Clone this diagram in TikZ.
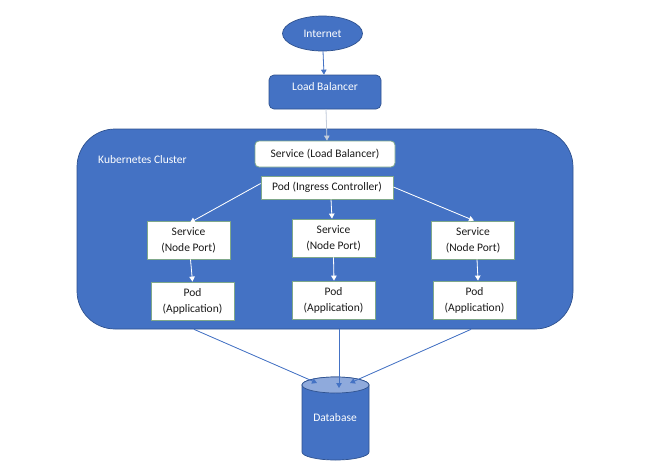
\documentclass[tikz,border=0pt]{standalone}
\usepackage{fontspec}
\setmainfont{Carlito}
\usetikzlibrary{arrows.meta,shapes.geometric,calc}
\definecolor{kblue}{HTML}{4472C4}
\definecolor{kedge}{HTML}{2F528F}
\definecolor{ktop}{HTML}{8FAADC}
\definecolor{kgreen}{HTML}{7FA88A}
\definecolor{kgrey}{HTML}{C3CCDB}
\definecolor{kink}{HTML}{1A1A1A}
\tikzset{
  x=1pt,y=-1pt,
  lbl/.style={font=\fontsize{11.5}{16}\selectfont,align=center,inner sep=0pt},
  whitebox/.style={draw=kgreen,line width=0.8pt,fill=white,text=kink,lbl,minimum width=#1,minimum height=38pt},
  bluebox/.style={draw=kedge,line width=0.7pt,fill=kblue,text=white,lbl},
  tipped/.style={-{Triangle[length=5pt,width=5.5pt]},line width=0.8pt},
  inner/.style={tipped,draw=white,fill=white},
  outer/.style={tipped,draw=kblue,fill=kblue},
}
\begin{document}
\begin{tikzpicture}
\useasboundingbox[fill=white] (0,0) rectangle (648,474);
% cluster
\node[bluebox,rounded corners=38pt,minimum width=496pt,minimum height=200pt] (cluster) at (325,229) {};
\node[lbl,text=white,anchor=west] (clabel) at (98,160) {Kubernetes Cluster};
% top
\node[bluebox,ellipse,minimum width=80pt,minimum height=35pt] (net) at (322.5,33.5) {Internet};
\node[bluebox,rounded corners=5pt,minimum width=112pt,minimum height=34pt,text depth=10pt] (lb) at (325,92) {Load Balancer};
\node[whitebox=140pt,rounded corners=4pt,minimum height=26pt] (slb) at (325,154) {Service (Load Balancer)};
\node[whitebox=132pt,minimum height=23pt] (ing) at (327,187.5) {Pod (Ingress Controller)};
% services
\node[whitebox=83pt] (s1) at (188.5,240) {Service\\(Node Port)};
\node[whitebox=83pt] (s2) at (333.5,238) {Service\\(Node Port)};
\node[whitebox=83pt] (s3) at (473,240) {Service\\(Node Port)};
% pods
\node[whitebox=83pt] (p1) at (192.5,301) {Pod\\(Application)};
\node[whitebox=83pt] (p2) at (333.5,300) {Pod\\(Application)};
\node[whitebox=83pt] (p3) at (474.5,300) {Pod\\(Application)};
% database
\path[fill=kblue,draw=kedge,line width=0.7pt] (302,385) -- (302,452) arc[start angle=180,end angle=360,x radius=33.5pt,y radius=8pt] -- (369,385) arc[start angle=0,end angle=180,x radius=33.5pt,y radius=8pt] -- cycle;
\path[fill=ktop,draw=kedge,line width=0.7pt] (335.5,385) ellipse[x radius=33.5pt,y radius=8pt];
\node[lbl,text=white] (db) at (335,418) {Database};
\coordinate (d1) at (317,383);
\coordinate (d2) at (339,388);
\coordinate (d3) at (350,383);
% connectors
\draw[outer] ([xshift=0.5pt]net.south) -- ([xshift=-1pt]lb.north);
\draw[tipped,draw=kgrey,fill=kgrey] ([xshift=1pt]lb.south) -- ([xshift=2pt]slb.north);
\draw[inner] ([yshift=4pt]ing.west) -- ([xshift=1.5pt,yshift=-2pt]s1.north);
\draw[inner] ([xshift=4pt]ing.south) -- ([xshift=-1.5pt]s2.north);
\draw[inner] ([yshift=0.5pt]ing.east) -- ([xshift=1pt]s3.north);
\draw[inner] ([xshift=2pt]s1.south) -- (p1.north);
\draw[inner] (s2.south) -- ([xshift=0.5pt]p2.north);
\draw[inner] ([xshift=4pt]s3.south) -- ([xshift=3.5pt]p3.north);
\draw[outer] ([xshift=-131pt]cluster.south) -- (d1);
\draw[outer] ([xshift=14pt]cluster.south) -- (d2);
\draw[outer] ([xshift=146pt]cluster.south) -- (d3);
\end{tikzpicture}
\end{document}
